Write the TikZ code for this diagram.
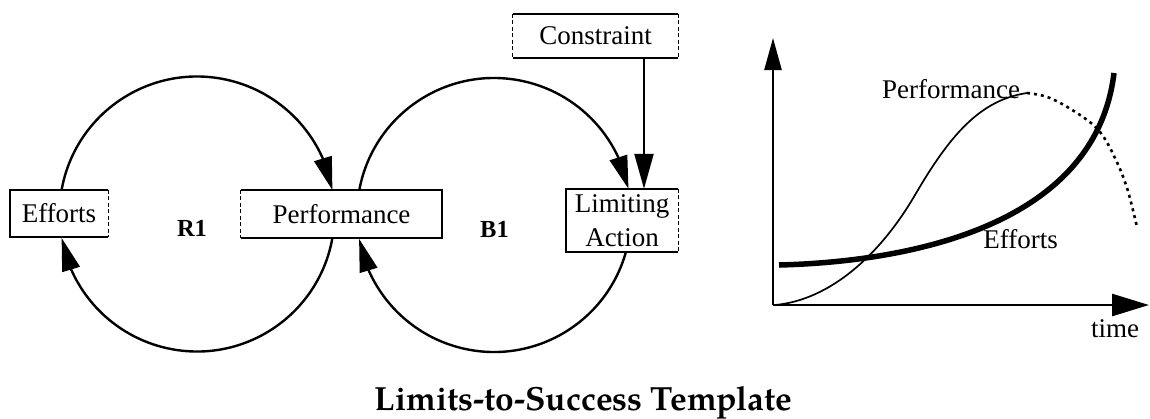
\documentclass[tikz,border=0pt]{standalone}
\usepackage{fontspec}
\setmainfont{Liberation Serif}
\newfontfamily\titlefont{texgyrepagella-bold.otf}
\usetikzlibrary{arrows.meta,bending}

\begin{document}
\begin{tikzpicture}[x=1pt,y=1pt,
  lbl/.style={font=\fontsize{27}{34}\selectfont, inner sep=0pt},
  loopname/.style={font=\bfseries\fontsize{24.5}{30}\selectfont, inner sep=0pt, anchor=base},
  boxnode/.style={lbl, align=center},
  edge/.style={line width=1.5pt},
  brokenedge/.style={line width=1.3pt, dash pattern=on 4pt off 2.5pt},
  bigtip/.style={-{Triangle[length=33pt,width=18pt]}},
  loop/.style={line width=2.4pt, bigtip},
  axis/.style={line width=2.6pt},
  effcurve/.style={line width=5.5pt},
  perfcurve/.style={line width=1.7pt},
  perfdotted/.style={line width=2.6pt, dash pattern=on 3pt off 4pt},
]
% canvas
\fill[white] (0,0) rectangle (1150,-418);
\useasboundingbox (0,0) rectangle (1150,-418);

% ---------- causal loop diagram ----------
\node[boxnode, minimum width=98pt, minimum height=47pt] (eff) at (59,-213.5) {Efforts};
\node[boxnode, minimum width=201pt, minimum height=48pt] (perf) at (341.5,-214) {Performance};
\node[boxnode, minimum width=112pt, minimum height=63pt] (lim) at (622,-220.5) {Limiting\\Action};
\node[boxnode, minimum width=165pt, minimum height=44pt] (con) at (595.5,-36) {Constraint};

% box outlines (one side of each drawn broken)
\draw[edge] (eff.north east) -- (eff.north west) -- (eff.south west) -- (eff.south east);
\draw[brokenedge] (eff.north east) -- (eff.south east);
\draw[edge] (perf.north west) -- (perf.north east) -- (perf.south east) -- (perf.south west);
\draw[brokenedge] (perf.north west) -- (perf.south west);
\draw[edge] (lim.north east) -- (lim.north west) -- (lim.south west) -- (lim.south east);
\draw[brokenedge] (lim.north east) -- (lim.south east);
\draw[edge] (con.north west) -- (con.north east);
\draw[edge] (con.south west) -- (con.south east);
\draw[brokenedge] (con.north west) -- (con.south west);
\draw[brokenedge] (con.north east) -- (con.south east);

% loop centres
\coordinate (r1c) at (197,-214);
\coordinate (b1c) at (494,-215);

% reinforcing loop R1
\draw[loop] ([shift={(170:137.5)}]r1c) arc[start angle=170, end angle=10, radius=137.5];
\draw[loop] ([shift={(-10:137.5)}]r1c) arc[start angle=-10, end angle=-170, radius=137.5];
% balancing loop B1
\draw[loop] ([shift={(169.5:137)}]b1c) arc[start angle=169.5, end angle=11, radius=137];
\draw[loop] ([shift={(-15.5:137)}]b1c) arc[start angle=-15.5, end angle=-170, radius=137];

\node[loopname] (r1) at (192,-236) {R1};
\node[loopname] (b1) at (494.5,-237) {B1};

% constraint link
\coordinate (cx) at (644,0);
\draw[line width=2.3pt, -{Triangle[length=35pt,width=19pt]}] (con.south -| cx) -- (lim.north -| cx);

% ---------- behaviour over time graph ----------
\coordinate (O) at (773,-305);
\coordinate (ytop) at (773,-38);
\coordinate (xend) at (1149,-305);
\draw[axis, -{Triangle[length=32pt,width=17pt]}] (O) -- (ytop);
\draw[axis, -{Triangle[length=37pt,width=22pt]}] (O) -- (xend);

% performance: S-curve, then its projected decline (dotted)
\coordinate (ps) at (775,-305);
\coordinate (pm) at (915,-195);
\coordinate (pe) at (1027,-93);
\draw[perfcurve] (ps) .. controls (830,-300) and (880,-255) .. (pm)
                      .. controls (950,-135) and (980,-100) .. (pe);
\draw[perfdotted] plot[smooth, tension=0.6] coordinates {(1027,-93) (1050,-98) (1080,-115) (1100,-132) (1115,-158) (1127,-188) (1137,-227)};
% efforts: accelerating growth
\coordinate (es) at (779,-265);
\coordinate (ee) at (1114,-73);
\draw[effcurve] (es) .. controls (900,-262) and (1095,-230) .. (ee);

\node[lbl, anchor=base west] (plab) at (882,-98) {Performance};
\node[lbl, anchor=base] (elab) at (1020.5,-248) {Efforts};
\node[lbl, anchor=base] (tlab) at (1115,-337) {time};

% ---------- caption ----------
\node[anchor=base, inner sep=0pt, font=\titlefont\fontsize{33.5}{40}\selectfont] (title) at (583.5,-410) {Limits-to-Success Template};
\end{tikzpicture}
\end{document}
